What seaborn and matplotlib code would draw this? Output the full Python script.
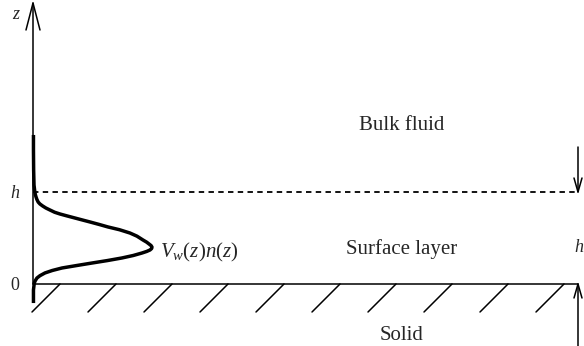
import numpy as np
import matplotlib
matplotlib.use("Agg")
import matplotlib.pyplot as plt
import seaborn as sns

sns.set_style("white")
plt.rcParams['font.family'] = ['Liberation Serif', 'DejaVu Serif']
plt.rcParams['mathtext.fontset'] = 'custom'
plt.rcParams['mathtext.rm'] = 'Liberation Serif'
plt.rcParams['mathtext.it'] = 'Liberation Serif:italic'

# profile V_w(z) n(z) (z in units of h)
z_prof = [1.62, 1.457, 1.239, 1.076, 1.0, 0.97, 0.946, 0.92, 0.891, 0.87, 0.848,
          0.826, 0.804, 0.78, 0.761, 0.74, 0.717, 0.695, 0.674, 0.647, 0.620,
          0.59, 0.554, 0.52, 0.478, 0.455, 0.435, 0.418, 0.402, 0.386, 0.370,
          0.354, 0.337, 0.31, 0.283, 0.255, 0.228, 0.20, 0.174, 0.147, 0.120,
          0.09, 0.065, 0.035, 0.011, -0.065, -0.207]
vn_prof = [0.005, 0.005, 0.007, 0.011, 0.02, 0.026, 0.033, 0.042, 0.056, 0.075, 0.105,
           0.14, 0.185, 0.235, 0.293, 0.37, 0.457, 0.54, 0.62, 0.72, 0.815,
           0.94, 1.054, 1.13, 1.196, 1.235, 1.261, 1.283, 1.293, 1.29, 1.272,
           1.236, 1.185, 1.09, 0.967, 0.81, 0.641, 0.47, 0.315, 0.21, 0.130,
           0.075, 0.043, 0.024, 0.014, 0.005, 0.005]

# region labels
region_names = ["Bulk fluid", "Surface layer", "Solid"]
region_z = [1.677, 0.326, -0.609]
axis_ticks = ["0", "h"]
axis_tick_z = [0.0, 1.0]

PX = 92.0  # pixels per unit
fig = plt.figure(figsize=(5.84, 3.46), dpi=100)
ax = fig.add_axes([0, 0, 1, 1])
ax.set_xlim(-33 / PX, 551 / PX)
ax.set_ylim(-62 / PX, 284 / PX)
ax.axis('off')

x_right = 545 / PX
lw_thin = 1.1

# z axis with open arrow
ax.plot([0, 0], [0, 281 / PX], color='black', lw=lw_thin)
ax.plot([-7 / PX, 0, 7 / PX], [254 / PX, 281 / PX, 254 / PX], color='black', lw=lw_thin)

# surface (solid) and interface h (dashed)
ax.plot([0, x_right], [0, 0], color='black', lw=lw_thin)
ax.plot([0, x_right], [1, 1], color='black', lw=1.3, linestyle=(0, (3.0, 2.4)))

# hatching of the solid
for xb in np.arange(-1 / PX, x_right - 0.3, 56 / PX):
    ax.plot([xb, xb + 28 / PX], [-28 / PX, 0], color='black', lw=lw_thin)

# density profile
sns.lineplot(x=vn_prof, y=z_prof, sort=False, estimator=None, color='black',
             lw=2.5, ax=ax, solid_joinstyle='round', solid_capstyle='butt')

# right-hand thickness arrows
ax.plot([x_right, x_right], [137 / PX, 1], color='black', lw=lw_thin)
ax.plot([x_right - 4 / PX, x_right, x_right + 4 / PX],
        [1 + 14 / PX, 1, 1 + 14 / PX], color='black', lw=lw_thin)
ax.plot([x_right, x_right], [-62 / PX, 0], color='black', lw=lw_thin)
ax.plot([x_right - 4 / PX, x_right, x_right + 4 / PX],
        [-14 / PX, 0, -14 / PX], color='black', lw=lw_thin)

# texts
for name, zc in zip(region_names, region_z):
    ax.text(369 / PX, zc, name, ha='center', va='baseline', fontsize=15)
for lab, zt in zip(axis_ticks, axis_tick_z):
    style = 'italic' if lab == 'h' else 'normal'
    ax.text(-18 / PX, zt - 2 / PX, lab, ha='center', va='center', fontsize=13, style=style)
ax.text(-17 / PX, 265 / PX, 'z', ha='center', va='baseline', fontsize=13, style='italic')
ax.text(x_right + 1 / PX, 32 / PX, 'h', ha='center', va='baseline', fontsize=13, style='italic')
ax.text(127 / PX, 27 / PX, r'$V_w(z)n(z)$', ha='left', va='baseline', fontsize=15)

fig.savefig('out.png', dpi=100)
